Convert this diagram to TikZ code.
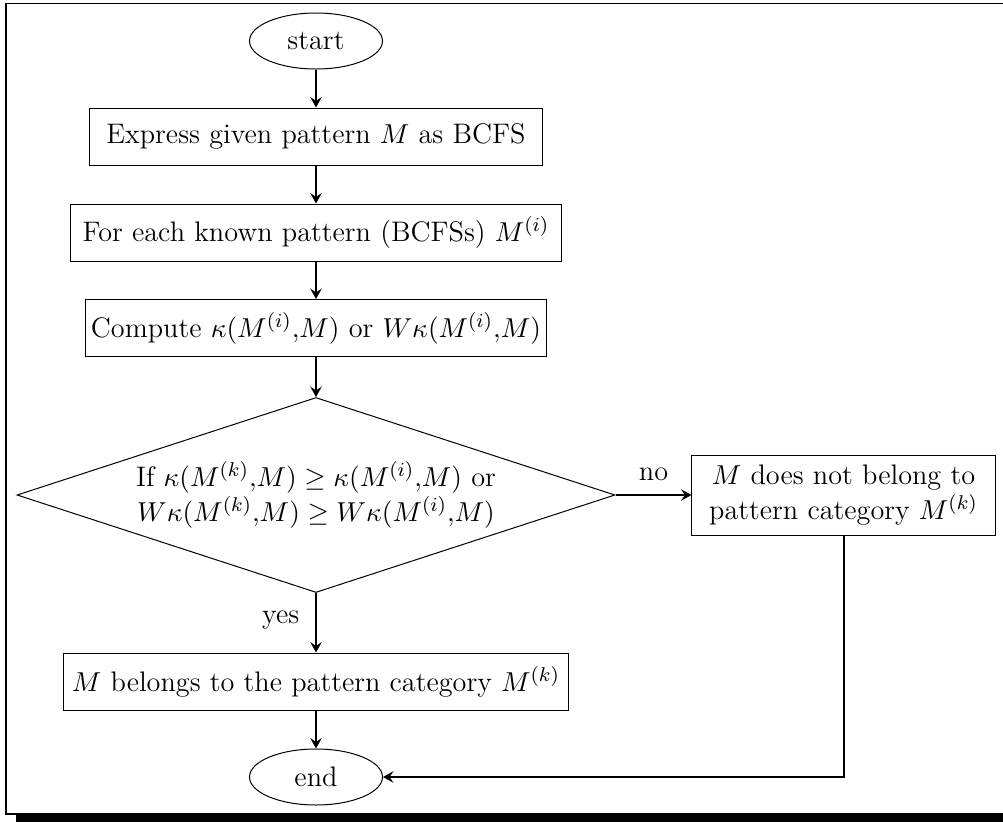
\documentclass[tikz,border=0pt]{standalone}
\usetikzlibrary{shapes.geometric,arrows.meta}
\begin{document}
\begin{tikzpicture}[x=0.4pt,y=-0.4pt,
  every node/.style={font=\fontsize{11.3pt}{14pt}\selectfont},
  box/.style={draw, line width=0.4pt, rectangle, inner sep=0pt, minimum height=22.8pt},
  term/.style={draw, line width=0.4pt, ellipse, inner sep=0pt, minimum width=53.2pt, minimum height=22.4pt},
  dia/.style={draw, line width=0.4pt, diamond, inner sep=0pt, minimum width=239.2pt, minimum height=78pt},
  arr/.style={line width=0.8pt, -{Stealth[length=4.2pt,width=4.6pt,inset=1.6pt]}},
  conn/.style={line width=0.8pt}]
\useasboundingbox (0,0) rectangle (1003,822);
% frame with shadow
\draw[line width=0.7pt] (1010,3.5) -- (6,3.5) -- (6,814) -- (1010,814);
\fill[black] (16,814.8) rectangle (1010,823);
% nodes
\node[term] (start) at (316,41) {start};
\node[box, minimum width=181.2pt] (b1) at (316,136.5) {Express given pattern $M$ as BCFS};
\node[box, minimum width=196pt] (b2) at (316,232.5) {For each known pattern (BCFSs) $M^{(i)}$};
\node[box, minimum width=184pt] (b3) at (316,328) {Compute $\kappa(M^{(i)}{,}M)$ or $W\kappa(M^{(i)}{,}M)$};
\node[dia] (dec) at (316,495) {};
\node[align=center, inner sep=0pt] (dect) at (dec) {If $\kappa(M^{(k)}{,}M)\geq\kappa(M^{(i)}{,}M)$ or\\ $W\kappa(M^{(k)}{,}M)\geq W\kappa(M^{(i)}{,}M)$};
\node[box, minimum width=121.2pt, minimum height=32pt, align=center] (nob) at (843.5,495.5) {$M$ does not belong to\\ pattern category $M^{(k)}$};
\node[box, minimum width=201.6pt] (b4) at (316,681.5) {$M$ belongs to the pattern category $M^{(k)}$};
\node[term] (stop) at (316,777) {end};
\coordinate (corner) at (843.5,777);
% connectors
\draw[arr] (start) -- (b1);
\draw[arr] (b1) -- (b2);
\draw[arr] (b2) -- (b3);
\draw[arr] (b3) -- (dec.north);
\draw[arr] (dec.east) -- node[above=2pt] (nolbl) {no} (dec.east -| nob.west);
\draw[arr] (dec.south) -- node[left=3pt, pos=0.45] (yeslbl) {yes} (b4.north);
\draw[arr] (b4) -- (stop);
\draw[arr] (nob.south -| corner) -- (corner) -- (stop.east);
\end{tikzpicture}
\end{document}
